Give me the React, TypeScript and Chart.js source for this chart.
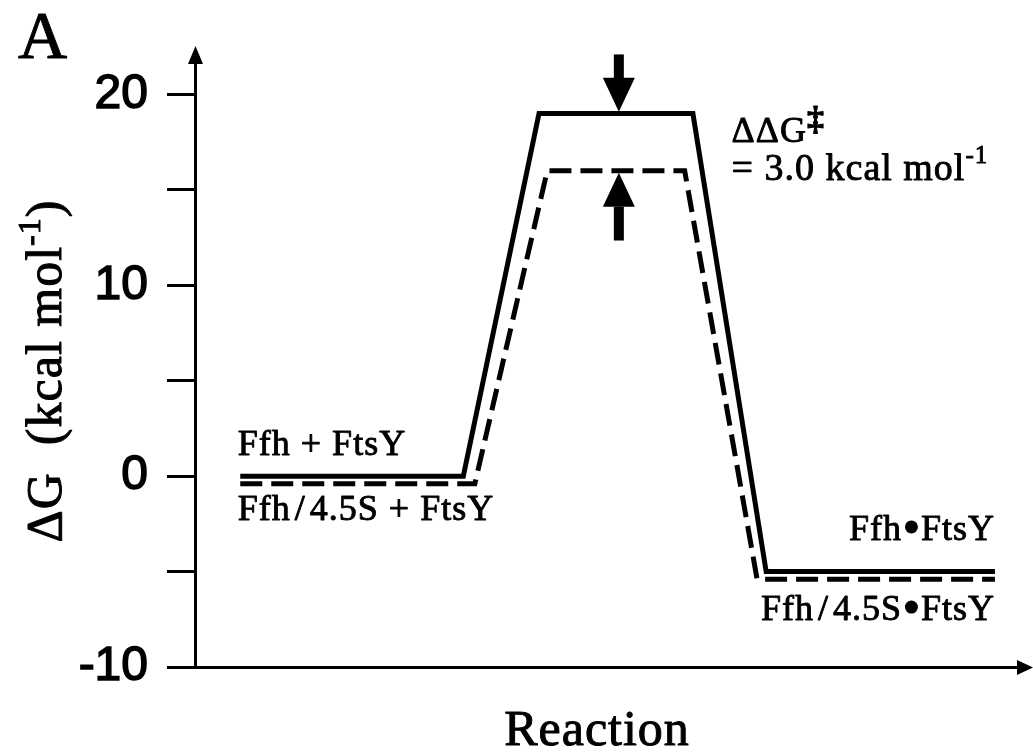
import React, { useEffect, useRef } from "react";
import { Chart, registerables } from "chart.js";

Chart.register(...registerables);

// Reaction coordinate (arbitrary units) of each vertex of the two free-energy profiles
const solidX = [5.5, 32.6, 41.8, 60.5, 69.4, 97.2];
const solidG = [0, 0, 19, 19, -5, -5]; // Ffh + FtsY (kcal/mol)
const dashedX = [5.5, 34.0, 42.8, 59.5, 68.3, 97.2];
const dashedG = [-0.4, -0.4, 16, 16, -5.4, -5.4]; // Ffh/4.5S + FtsY (kcal/mol)

// Y axis range and labelled ticks
const yMin = -10;
const yMax = 21.65;
const yStep = 5;
const yLabelled = [-10, 0, 10, 20];

const SERIF = "'Liberation Serif', 'Times New Roman', serif";
const SANS = "'Liberation Sans', Arial, sans-serif";

// Rich-text pieces: plain text, raised text, or a centred dot
type Seg = { text?: string; size?: number; rise?: number; bold?: boolean; dot?: number; pad?: number };

const L = 36; // state label size
const slash = (): Seg[] => [{ text: "/", size: L, pad: 4 }];
const bullet: Seg = { dot: 6.5, pad: 3 };

// State labels placed in reaction/energy coordinates
const stateLabels: { segs: Seg[]; x: number; g: number; align: "left" | "right" }[] = [
  { segs: [{ text: "Ffh + FtsY", size: L }], x: 5.2, g: 1.11, align: "left" },
  { segs: [{ text: "Ffh", size: L }, ...slash(), { text: "4.5S + FtsY", size: L }], x: 5.2, g: -2.3, align: "left" },
  { segs: [{ text: "Ffh", size: L }, bullet, { text: "FtsY", size: L }], x: 97.2, g: -3.34, align: "right" },
  { segs: [{ text: "Ffh", size: L }, ...slash(), { text: "4.5S", size: L }, bullet, { text: "FtsY", size: L }], x: 97.2, g: -7.54, align: "right" },
];

// Difference between the two transition-state barriers
const ddG = solidG[2] - dashedG[2];
const arrowX = 51.5;

function setFont(ctx: CanvasRenderingContext2D, s: Seg) {
  ctx.font = `${s.bold ? "bold " : ""}${s.size || L}px ${SERIF}`;
}

function richWidth(ctx: CanvasRenderingContext2D, segs: Seg[]) {
  let w = 0;
  for (const s of segs) {
    if (s.dot) {
      w += s.dot * 2 + (s.pad || 0) * 2;
      continue;
    }
    setFont(ctx, s);
    w += ctx.measureText(s.text || "").width + (s.pad || 0) * 2;
  }
  return w;
}

function drawRich(ctx: CanvasRenderingContext2D, segs: Seg[], x: number, y: number, weight = 0.9) {
  let cx = x;
  ctx.lineWidth = weight;
  ctx.lineJoin = "round";
  for (const s of segs) {
    cx += s.pad || 0;
    if (s.dot) {
      ctx.beginPath();
      ctx.arc(cx + s.dot, y - 13, s.dot, 0, Math.PI * 2);
      ctx.fill();
      cx += s.dot * 2 + (s.pad || 0);
      continue;
    }
    setFont(ctx, s);
    const ty = y - (s.rise || 0);
    ctx.fillText(s.text || "", cx, ty);
    if (weight > 0) ctx.strokeText(s.text || "", cx, ty);
    cx += ctx.measureText(s.text || "").width + (s.pad || 0);
  }
}

// Solid block arrow pointing from tail to tip (vertical)
function blockArrow(ctx: CanvasRenderingContext2D, x: number, yTail: number, yTip: number) {
  const dir = yTip > yTail ? 1 : -1;
  const headLen = 34;
  const headHalf = 16;
  const shaftHalf = 5;
  const yBase = yTip - dir * headLen;
  ctx.fillRect(x - shaftHalf, Math.min(yTail, yBase), shaftHalf * 2, Math.abs(yBase - yTail) + 1);
  ctx.beginPath();
  ctx.moveTo(x - headHalf, yBase);
  ctx.lineTo(x + headHalf, yBase);
  ctx.lineTo(x, yTip);
  ctx.closePath();
  ctx.fill();
}

const annotationPlugin = {
  id: "profileAnnotations",
  afterDraw(chart: any) {
    const { ctx, chartArea, scales } = chart;
    const xs = scales.x;
    const ys = scales.y;
    ctx.save();
    ctx.fillStyle = "#000";
    ctx.strokeStyle = "#000";
    ctx.textBaseline = "alphabetic";
    ctx.textAlign = "left";

    // axis arrowheads
    const axX = Math.floor(ys.right) + 0.5;
    ctx.beginPath();
    ctx.moveTo(axX, chartArea.top - 17);
    ctx.lineTo(axX - 7.5, chartArea.top + 1);
    ctx.lineTo(axX + 7.5, chartArea.top + 1);
    ctx.closePath();
    ctx.fill();
    const axY = Math.floor(xs.top) + 0.5;
    ctx.beginPath();
    ctx.moveTo(chartArea.right + 15, axY);
    ctx.lineTo(chartArea.right - 1, axY - 7.5);
    ctx.lineTo(chartArea.right - 1, axY + 7.5);
    ctx.closePath();
    ctx.fill();

    ctx.letterSpacing = "1px";

    // state labels
    for (const l of stateLabels) {
      const px = xs.getPixelForValue(l.x);
      const w = richWidth(ctx, l.segs);
      drawRich(ctx, l.segs, l.align === "right" ? px - w : px, ys.getPixelForValue(l.g));
    }

    // barrier difference arrows
    const ax = xs.getPixelForValue(arrowX);
    blockArrow(ctx, ax, ys.getPixelForValue(solidG[2] + 3.1), ys.getPixelForValue(solidG[2] + 0.1));
    blockArrow(ctx, ax, ys.getPixelForValue(dashedG[2] - 3.6), ys.getPixelForValue(dashedG[2] - 0.1));

    // ΔΔG‡ label
    const lx = xs.getPixelForValue(65.2);
    drawRich(ctx, [
      { text: "\u0394\u0394G", size: 36 },
      { text: "\u2021", size: 34, rise: 12, bold: true },
    ], lx, ys.getPixelForValue(17.52));
    drawRich(ctx, [
      { text: `= ${ddG.toFixed(1)} kcal mol`, size: 38 },
      { text: "-1", size: 25, rise: 17 },
    ], lx, ys.getPixelForValue(15.52));

    // y axis title (rotated)
    const ySegs: Seg[] = [
      { text: "\u0394G  (kcal mol", size: 50 },
      { text: "-1", size: 32, rise: 21 },
      { text: ")", size: 50 },
    ];
    ctx.save();
    ctx.translate(61, 371);
    ctx.rotate(-Math.PI / 2);
    drawRich(ctx, ySegs, -richWidth(ctx, ySegs) / 2, 0, 1);
    ctx.restore();

    // x axis title
    const xSegs: Seg[] = [{ text: "Reaction", size: 50 }];
    drawRich(ctx, xSegs, 597 - richWidth(ctx, xSegs) / 2, 745, 1);

    // panel letter
    ctx.letterSpacing = "0px";
    drawRich(ctx, [{ text: "A", size: 68 }], 18, 58, 1);

    ctx.restore();
  },
};

export default function App() {
  const canvasRef = useRef<HTMLCanvasElement | null>(null);

  useEffect(() => {
    const canvas = canvasRef.current;
    if (!canvas) return;
    const chart = new Chart(canvas, {
      type: "line",
      data: {
        datasets: [
          {
            label: "Ffh + FtsY",
            data: solidX.map((x, i) => ({ x, y: solidG[i] })),
            borderColor: "#000",
            borderWidth: 5,
            pointRadius: 0,
            tension: 0,
            borderJoinStyle: "miter",
            borderCapStyle: "butt",
            fill: false,
          },
          {
            label: "Ffh/4.5S + FtsY",
            data: dashedX.map((x, i) => ({ x, y: dashedG[i] })),
            borderColor: "#000",
            borderWidth: 5,
            borderDash: [22, 9],
            pointRadius: 0,
            tension: 0,
            borderJoinStyle: "miter",
            borderCapStyle: "butt",
            fill: false,
          },
        ],
      },
      options: {
        responsive: false,
        animation: false,
        devicePixelRatio: 1,
        layout: { padding: { top: 63, right: 15, bottom: 0, left: 0 } },
        plugins: { legend: { display: false }, tooltip: { enabled: false } },
        scales: {
          x: {
            type: "linear",
            min: 0,
            max: 100,
            ticks: { display: false },
            grid: { display: false },
            border: { display: true, color: "#000", width: 3 },
            afterFit: (s: any) => {
              s.height = 87;
            },
          },
          y: {
            type: "linear",
            min: yMin,
            max: yMax,
            ticks: {
              stepSize: yStep,
              includeBounds: false,
              color: "#000",
              padding: 19,
              textStrokeWidth: 1.5,
              textStrokeColor: "#000",
              font: { family: SANS, size: 48 },
              callback: (v: any) => (yLabelled.includes(Number(v)) ? String(v) : ""),
            },
            grid: {
              drawOnChartArea: false,
              drawTicks: true,
              tickLength: 28,
              color: "#000",
              lineWidth: 3,
              tickWidth: 3,
              tickColor: "#000",
            },
            border: { display: true, color: "#000", width: 3 },
            afterFit: (s: any) => {
              s.width = 195;
            },
          },
        },
      },
      plugins: [annotationPlugin],
    });
    return () => chart.destroy();
  }, []);

  return (
    <div style={{ position: "absolute", left: 0, top: 0, width: 1033, height: 754, background: "#fff" }}>
      <canvas ref={canvasRef} width={1033} height={754} style={{ display: "block" }} />
    </div>
  );
}
